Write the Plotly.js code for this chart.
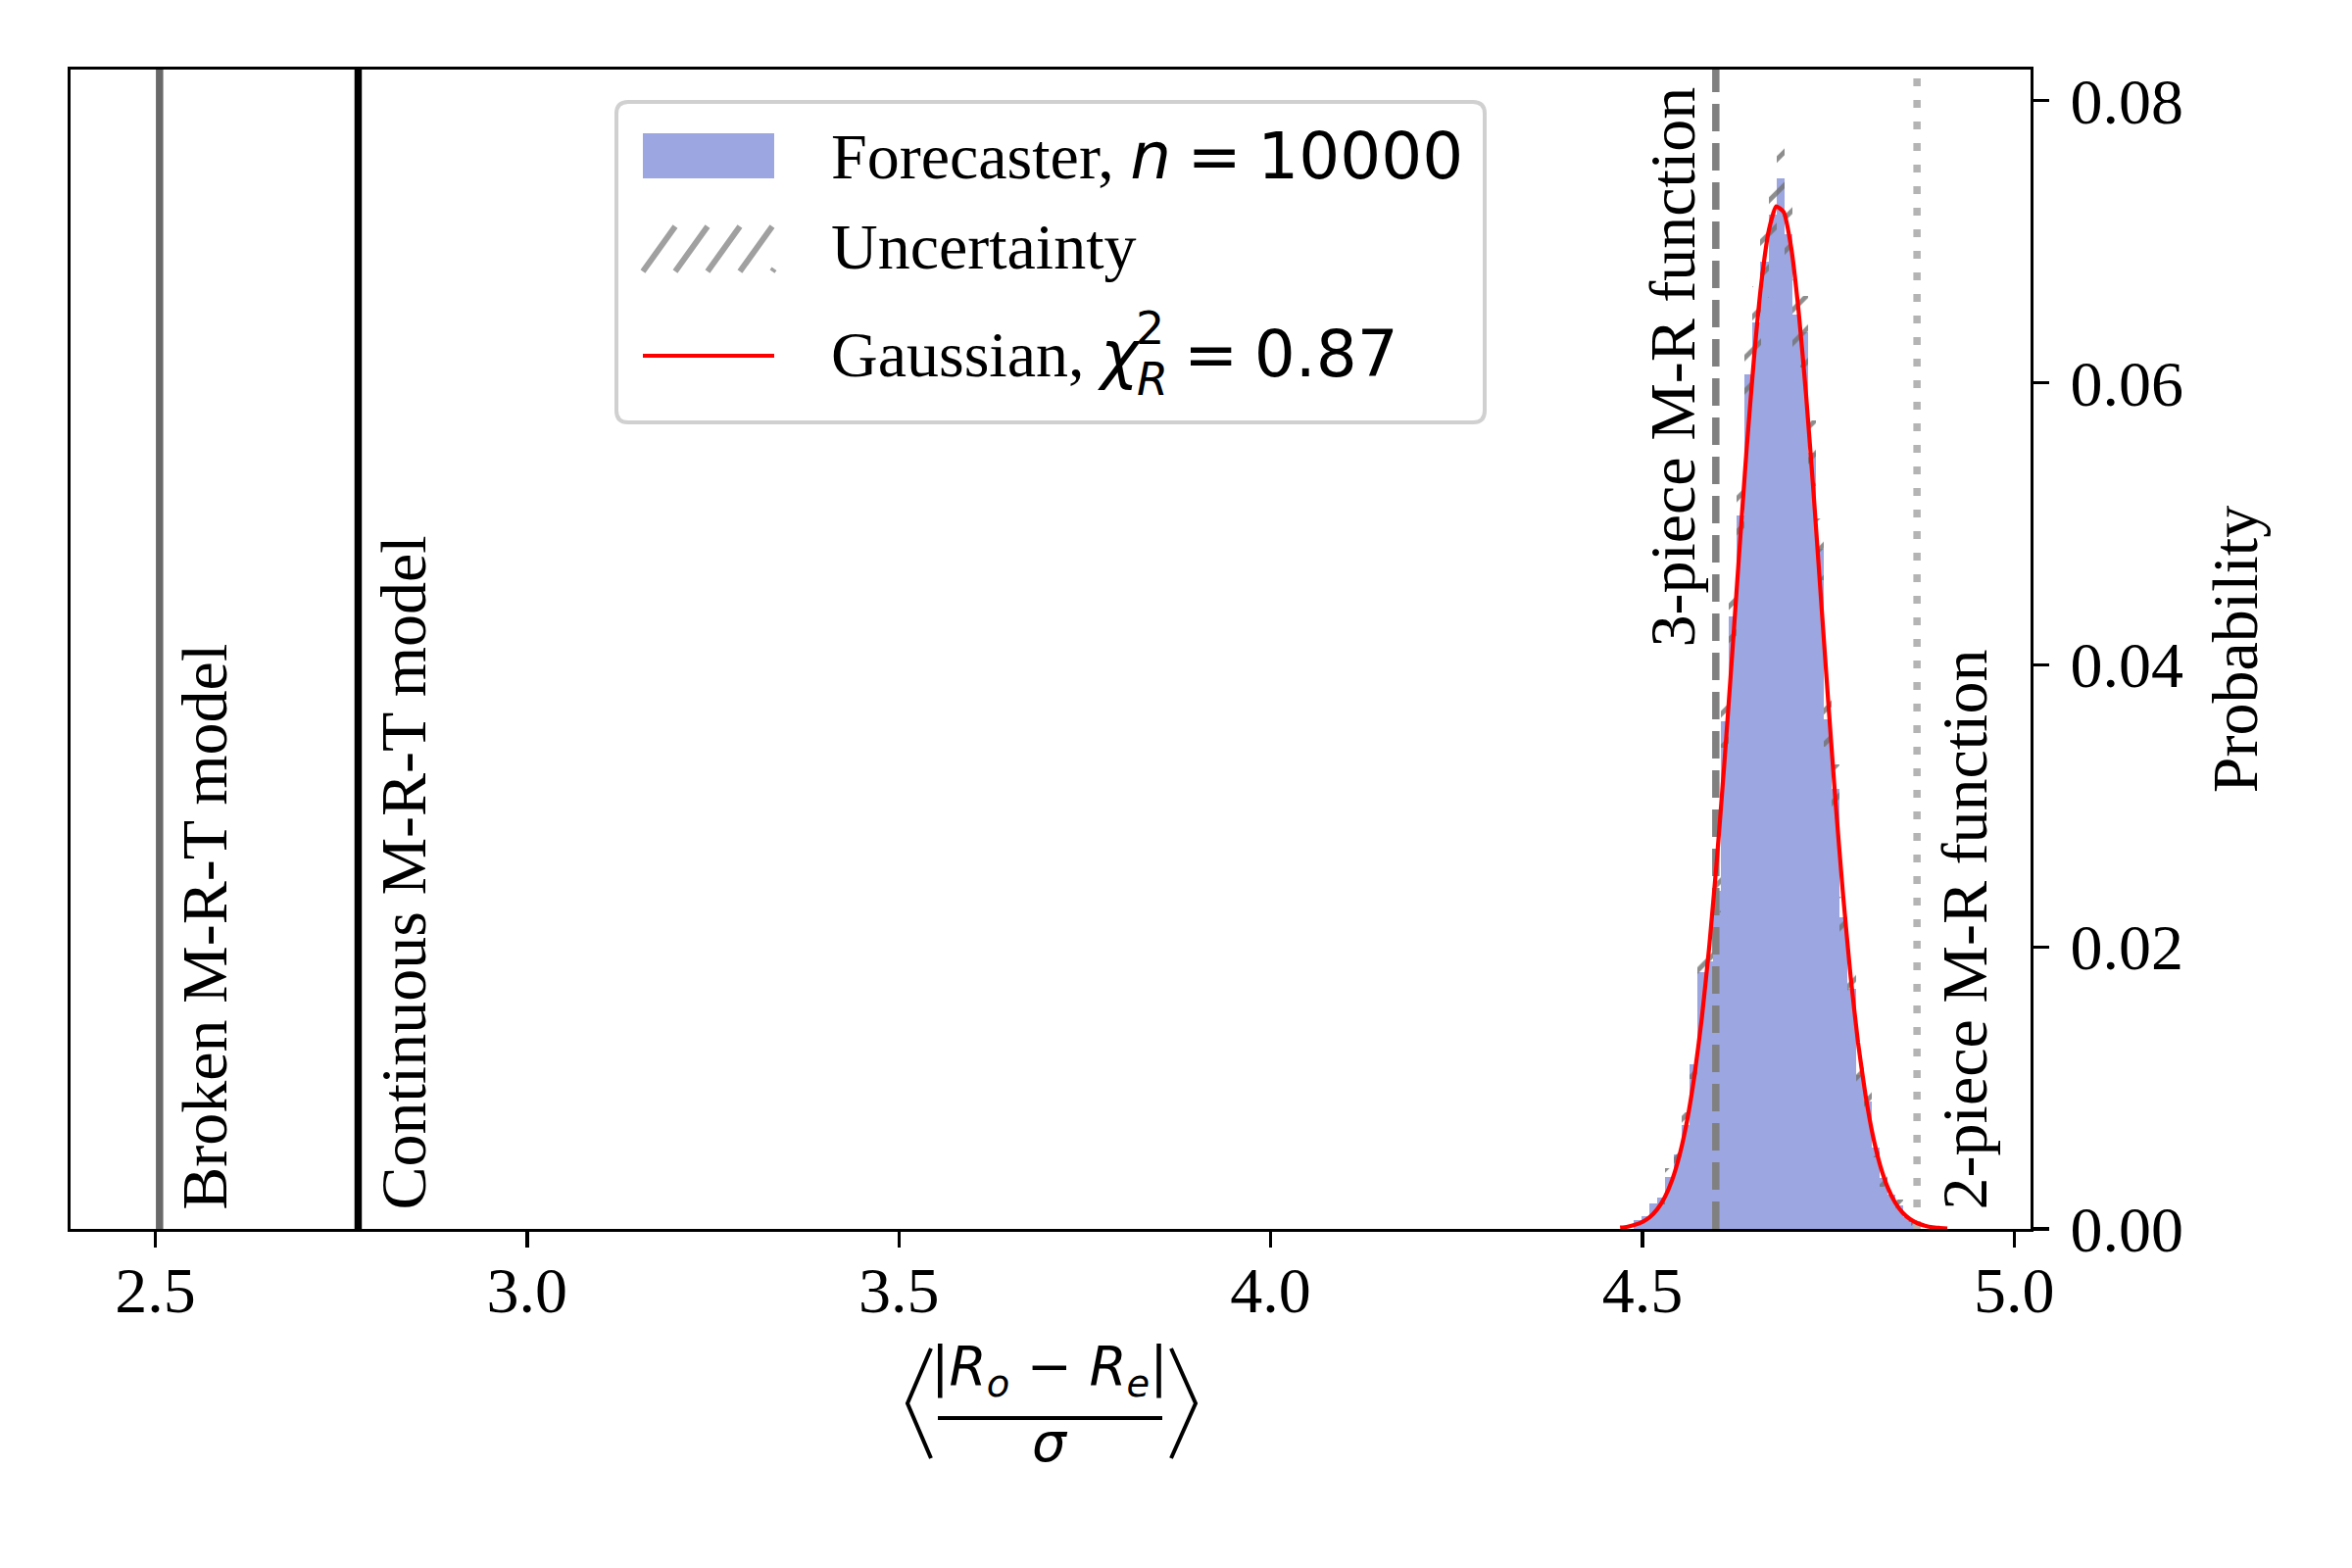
<!DOCTYPE html>
<html>
<head>
<meta charset="utf-8">
<script src="https://cdn.plot.ly/plotly-3.0.1.min.js"></script>
<style>
  html, body { margin: 0; padding: 0; background: #fff; }
  #chart { width: 2400px; height: 1600px; }
</style>
</head>
<body>
<div id="chart"></div>
<script>
// histogram of the forecaster run (n = 10000)
const binCenters = [4.4937, 4.5044, 4.5150, 4.5257, 4.5363, 4.5470, 4.5576, 4.5683, 4.5790, 4.5896,
  4.6003, 4.6109, 4.6216, 4.6323, 4.6429, 4.6536, 4.6642, 4.6749, 4.6855, 4.6962,
  4.7069, 4.7175, 4.7282, 4.7388, 4.7495, 4.7601, 4.7708, 4.7815, 4.7921, 4.8028,
  4.8134, 4.8241, 4.8348, 4.8454, 4.8561, 4.8667];
const binWidth = 0.01066;
const probs = [0.0006, 0.0009, 0.0018, 0.0022, 0.0037, 0.0053, 0.0074, 0.0117, 0.0182, 0.0190,
  0.0240, 0.0360, 0.0434, 0.0506, 0.0606, 0.0643, 0.0686, 0.0719, 0.0745, 0.0705,
  0.0648, 0.0636, 0.0550, 0.0482, 0.0361, 0.0312, 0.0221, 0.0170, 0.0109, 0.0090,
  0.0058, 0.0036, 0.0024, 0.0017, 0.0008, 0.0004];
// half-height of the hatched uncertainty band on each bin
const probErr = [0.00024, 0.0003, 0.00042, 0.00047, 0.0006, 0.00073, 0.00086, 0.00108, 0.00135, 0.00138,
  0.00155, 0.0019, 0.0021, 0.00225, 0.00246, 0.00254, 0.00262, 0.00268, 0.00273, 0.00266,
  0.00255, 0.00252, 0.00235, 0.0022, 0.0019, 0.00176, 0.00148, 0.0013, 0.00105, 0.00095,
  0.00076, 0.0006, 0.00049, 0.00041, 0.00028, 0.0002];

// red gaussian fit curve
const gaussX = [4.47, 4.48, 4.49, 4.50, 4.51, 4.52, 4.53, 4.54, 4.55, 4.56, 4.57, 4.58, 4.59, 4.60, 4.61,
  4.62, 4.63, 4.64, 4.65, 4.66, 4.67, 4.68, 4.69, 4.70, 4.71, 4.72, 4.73, 4.74, 4.75, 4.76,
  4.77, 4.78, 4.79, 4.80, 4.81, 4.82, 4.83, 4.84, 4.85, 4.86, 4.87, 4.88, 4.89, 4.90, 4.91];
const gaussY = [0.00009, 0.00016, 0.00029, 0.0005, 0.00085, 0.0014, 0.00224, 0.00347, 0.00524, 0.00766,
  0.01088, 0.0150, 0.0201, 0.0261, 0.0329, 0.0402, 0.0478, 0.0552, 0.0617, 0.0671,
  0.0708, 0.0725, 0.0721, 0.0696, 0.0651, 0.0592, 0.0523, 0.0448, 0.0373, 0.0301,
  0.0236, 0.0179, 0.0132, 0.0095, 0.0066, 0.00446, 0.00293, 0.00186, 0.00115, 0.00069,
  0.0004, 0.00023, 0.00012, 0.00007, 0.00003];

// reference models (vertical lines)
const refX = [2.5057, 2.7728, 4.5987, 4.8693];
const refNames = ['Broken M-R-T model', 'Continuous M-R-T model', '3-piece M-R function', '2-piece M-R function'];

const xTickVals = [2.5, 3.0, 3.5, 4.0, 4.5, 5.0];
const xTickText = ['2.5', '3.0', '3.5', '4.0', '4.5', '5.0'];
const yTickVals = [0, 0.02, 0.04, 0.06, 0.08];
const yTickText = ['0.00', '0.02', '0.04', '0.06', '0.08'];

const xRange = [2.386, 5.022];
const yRange = [0, 0.0822];

// figure geometry in px (axes box)
const L = 72, R = 2072, T = 71, B = 1254;
const fx = px => (px - L) / (R - L);
const fy = py => (B - py) / (B - T);

const SERIF = 'Liberation Serif, Times New Roman, serif';
const SANS = 'DejaVu Sans, sans-serif';
const FS = 66;
const SP = '\u2005'; // narrow math space

const refStyles = [
  {color: '#696969', width: 7.5, dash: 'solid'},
  {color: '#000000', width: 7.5, dash: 'solid'},
  {color: '#808080', width: 7.5, dash: '28px,12px'},
  {color: '#b4b4b4', width: 7.5, dash: '8px,14px'}
];
const labelOffset = [0.061, 0.061, -0.059, 0.064];
const labelBase = [0.0012, 0.0012, 0.0411, 0.0012];

const traces = [];

traces.push({
  type: 'bar', x: binCenters, y: probs, width: binWidth,
  marker: {color: '#9ca6e0', line: {width: 0}},
  showlegend: false, hoverinfo: 'skip'
});

traces.push({
  type: 'bar', x: binCenters,
  y: probErr.map(e => 2 * e),
  base: probs.map((p, i) => p - probErr[i]),
  width: binWidth,
  marker: {
    color: 'rgba(0,0,0,0)', line: {width: 0},
    pattern: {shape: '/', fgcolor: '#707070', fgopacity: 0.8, bgcolor: 'rgba(0,0,0,0)',
      size: 24, solidity: 0.2, fillmode: 'overlay'}
  },
  showlegend: false, hoverinfo: 'skip'
});

refX.forEach((v, i) => {
  traces.push({
    type: 'scatter', mode: 'lines', x: [v, v], y: yRange,
    line: refStyles[i], showlegend: false, hoverinfo: 'skip'
  });
});

traces.push({
  type: 'scatter', mode: 'lines', x: gaussX, y: gaussY,
  line: {color: '#ff0000', width: 4.2, shape: 'spline', smoothing: 0.5},
  showlegend: false, hoverinfo: 'skip'
});

const annotations = [];

// rotated labels next to the reference lines
refNames.forEach((name, i) => {
  annotations.push({
    xref: 'x', yref: 'y', x: refX[i] + labelOffset[i], y: labelBase[i],
    text: name, textangle: -90, showarrow: false,
    xanchor: 'center', yanchor: 'bottom',
    font: {family: SERIF, size: FS, color: '#000'}
  });
});

// x-axis label: < |Ro - Re| / sigma >
annotations.push({
  xref: 'paper', yref: 'paper', x: fx(1071), y: fy(1398), showarrow: false,
  xanchor: 'center', yanchor: 'middle',
  text: '|<i>R</i><sub><i>o</i></sub> − <i>R</i><sub><i>e</i></sub>|',
  font: {family: SANS, size: 55, color: '#000'}
});
annotations.push({
  xref: 'paper', yref: 'paper', x: fx(1071), y: fy(1472), showarrow: false,
  xanchor: 'center', yanchor: 'middle',
  text: '<i>σ</i>', font: {family: SANS, size: 55, color: '#000'}
});

// legend texts
annotations.push({
  xref: 'paper', yref: 'paper', x: fx(846), y: fy(159), showarrow: false,
  xanchor: 'left', yanchor: 'middle',
  text: 'Forecaster, <span style="font-family:DejaVu Sans"><i>n</i>' + SP + '=' + SP + '10000</span>',
  font: {family: SERIF, size: FS, color: '#000'}
});
annotations.push({
  xref: 'paper', yref: 'paper', x: fx(846), y: fy(251), showarrow: false,
  xanchor: 'left', yanchor: 'middle', text: 'Uncertainty',
  font: {family: SERIF, size: FS, color: '#000'}
});
annotations.push({
  xref: 'paper', yref: 'paper', x: fx(846), y: fy(361), showarrow: false,
  xanchor: 'left', yanchor: 'middle',
  text: 'Gaussian, <span style="font-family:DejaVu Sans"><i>χ</i></span>',
  font: {family: SERIF, size: FS, color: '#000'}
});
annotations.push({
  xref: 'paper', yref: 'paper', x: fx(1157), y: fy(335), showarrow: false,
  xanchor: 'left', yanchor: 'middle', text: '2',
  font: {family: SANS, size: 46, color: '#000'}
});
annotations.push({
  xref: 'paper', yref: 'paper', x: fx(1158), y: fy(387), showarrow: false,
  xanchor: 'left', yanchor: 'middle', text: '<i>R</i>',
  font: {family: SANS, size: 46, color: '#000'}
});
annotations.push({
  xref: 'paper', yref: 'paper', x: fx(1206), y: fy(361), showarrow: false,
  xanchor: 'left', yanchor: 'middle', text: '=' + SP + '0.87',
  font: {family: SANS, size: FS, color: '#000'}
});

// legend frame and swatches
function roundRect(x0, y0, x1, y1, r) {
  const rx = r / (R - L), ry = r / (B - T);
  const a = fx(x0), b = fx(x1), top = fy(y0), bot = fy(y1);
  return `M${a + rx},${top} L${b - rx},${top} Q${b},${top} ${b},${top - ry} ` +
    `L${b},${bot + ry} Q${b},${bot} ${b - rx},${bot} L${a + rx},${bot} Q${a},${bot} ${a},${bot + ry} ` +
    `L${a},${top - ry} Q${a},${top} ${a + rx},${top} Z`;
}

function hatchPath(x0, y0, x1, y1, step) {
  let d = '';
  for (let bx = x0 - step; bx <= x1; bx += step) {
    let xa = bx, ya = y1, xb = bx + step, yb = y0;
    const slope = (yb - ya) / (xb - xa);
    if (xa < x0) { ya = ya + slope * (x0 - xa); xa = x0; }
    if (xb > x1) { yb = ya + slope * (x1 - xa); xb = x1; }
    if (xb <= xa) continue;
    d += `M${fx(xa)},${fy(ya)} L${fx(xb)},${fy(yb)} `;
  }
  return d;
}

const shapes = [
  {type: 'path', xref: 'paper', yref: 'paper', path: roundRect(629, 104, 1515, 431, 12),
    fillcolor: 'rgba(255,255,255,0.85)', line: {color: '#d0d0d0', width: 4}, layer: 'above'},
  {type: 'rect', xref: 'paper', yref: 'paper', x0: fx(656), x1: fx(790), y0: fy(182), y1: fy(136),
    fillcolor: '#9ca6e0', line: {width: 0}, layer: 'above'},
  {type: 'path', xref: 'paper', yref: 'paper', path: hatchPath(656, 231, 790, 277, 33),
    line: {color: '#a0a0a0', width: 6}, layer: 'above'},
  {type: 'line', xref: 'paper', yref: 'paper', x0: fx(656), x1: fx(790), y0: fy(363), y1: fy(363),
    line: {color: '#ff0000', width: 4.2}, layer: 'above'},
  // fraction bar and angle brackets of the x label
  {type: 'line', xref: 'paper', yref: 'paper', x0: fx(957), x1: fx(1186), y0: fy(1447), y1: fy(1447),
    line: {color: '#000', width: 4}},
  {type: 'path', xref: 'paper', yref: 'paper',
    path: `M${fx(950)},${fy(1376)} L${fx(926)},${fy(1432)} L${fx(950)},${fy(1488)}`,
    line: {color: '#000', width: 4}},
  {type: 'path', xref: 'paper', yref: 'paper',
    path: `M${fx(1195)},${fy(1376)} L${fx(1220)},${fy(1432)} L${fx(1195)},${fy(1488)}`,
    line: {color: '#000', width: 4}}
];

const layout = {
  width: 2400, height: 1600,
  margin: {l: L, r: 2400 - R, t: T, b: 1600 - B, pad: 0},
  paper_bgcolor: '#ffffff', plot_bgcolor: '#ffffff',
  barmode: 'overlay', bargap: 0,
  showlegend: false,
  xaxis: {
    range: xRange, tickvals: xTickVals, ticktext: xTickText,
    showgrid: false, zeroline: false,
    showline: true, mirror: true, linecolor: '#000', linewidth: 3.3,
    ticks: 'outside', ticklen: 16, tickwidth: 3.3, tickcolor: '#000',
    ticklabelstandoff: -14,
    tickfont: {family: SERIF, size: FS, color: '#000'}
  },
  yaxis: {
    range: yRange, side: 'right', tickvals: yTickVals, ticktext: yTickText,
    showgrid: false, zeroline: false,
    showline: true, mirror: true, linecolor: '#000', linewidth: 3.3,
    ticks: 'outside', ticklen: 16, tickwidth: 3.3, tickcolor: '#000',
    ticklabelstandoff: 8,
    tickfont: {family: SERIF, size: FS, color: '#000'},
    title: {text: 'Probability', font: {family: SERIF, size: FS, color: '#000'}, standoff: 30}
  },
  annotations: annotations,
  shapes: shapes
};

Plotly.newPlot('chart', traces, layout, {displayModeBar: false, staticPlot: true});
</script>
</body>
</html>
